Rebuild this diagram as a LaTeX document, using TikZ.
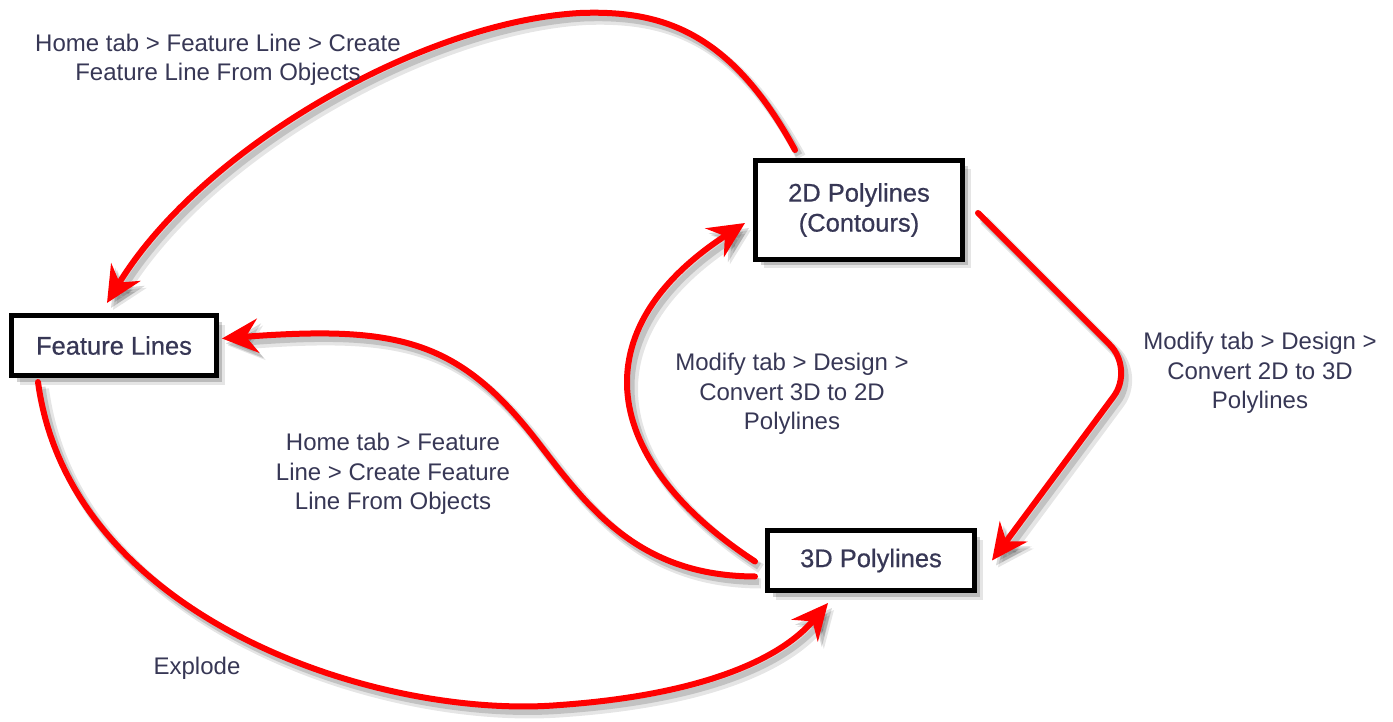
\documentclass[tikz,border=0pt]{standalone}
\usepackage{fontspec}
\setmainfont{Liberation Sans}
\newfontfamily\boxfont[FakeBold=0.6]{Liberation Sans}
\usetikzlibrary{arrows.meta,shadows}
\definecolor{txt}{RGB}{55,55,85}
\begin{document}
\begin{tikzpicture}[x=1pt,y=-1pt,
  every node/.style={font=\fontsize{24}{29.5}\selectfont, text=txt},
  box/.style={draw=black, line width=5pt, fill=white, inner sep=0pt, align=center,
    font=\boxfont\fontsize{25.5}{30}\selectfont,
    drop shadow={shadow xshift=5pt, shadow yshift=-6pt, opacity=0.18, fill=black},
    drop shadow={shadow xshift=8pt, shadow yshift=-9pt, opacity=0.10, fill=black}},
  lbl/.style={align=center},
  conn/.style={draw=red, line width=6pt, line cap=round,
    -{Stealth[length=36pt,width=34pt,inset=12pt]},
    preaction={draw=black, opacity=0.10, line width=10pt,
      transform canvas={xshift=6pt,yshift=-7pt}},
    preaction={draw=black, opacity=0.15, line width=7pt,
      transform canvas={xshift=4pt,yshift=-5pt}}}]
\useasboundingbox (0,0) rectangle (1393,722);
\fill[white] (0,0) rectangle (1393,722);

\node[box, minimum width=205pt, minimum height=60pt] (fl) at (114,345.5) {Feature Lines};
\node[box, minimum width=207pt, minimum height=99pt] (p2) at (859,210) {2D Polylines\\(Contours)};
\node[box, minimum width=207pt, minimum height=60pt] (p3) at (871,560.5) {3D Polylines};

% 2D -> Feature Lines (top arc)
\draw[conn] ([shift={(42,-8)}]p2.north west) .. controls (730,30) and (660,10) .. (580,13)
  .. controls (420,22) and (200,150) .. ([shift={(98,-10)}]fl.north west);
% 2D -> 3D (right side)
\draw[conn, rounded corners=34pt] ([shift={(13,3)}]p2.east) -- (1134,369) -- ([shift={(15,0)}]p3.east);
% 3D -> Feature Lines (S-curve)
\draw[conn] ([shift={(-10,16)}]p3.west) .. controls (640,576) and (590,510) .. (540,445)
  .. controls (460,340) and (400,325) .. ([shift={(3,-7)}]fl.east);
% 3D -> 2D
\draw[conn] ([shift={(-10,1)}]p3.west) .. controls (600,460) and (580,330) .. ([shift={(-8,13)}]p2.west);
% Feature Lines -> 3D (bottom arc)
\draw[conn] ([shift={(29,4)}]fl.south west) .. controls (70,620) and (380,720) .. (560,705)
  .. controls (700,695) and (780,660) .. ([shift={(63,10)}]p3.south west);

\node[lbl] (l1) at (218,60) {Home tab > Feature Line > Create\\Feature Line From Objects};
\node[lbl] (l2) at (792,394) {Modify tab > Design >\\Convert 3D to 2D\\Polylines};
\node[lbl] (l3) at (1260,373) {Modify tab > Design >\\Convert 2D to 3D\\Polylines};
\node[lbl] (l4) at (393,474) {Home tab > Feature\\Line > Create Feature\\Line From Objects};
\node[lbl] (l5) at (197,668) {Explode};
\end{tikzpicture}
\end{document}
